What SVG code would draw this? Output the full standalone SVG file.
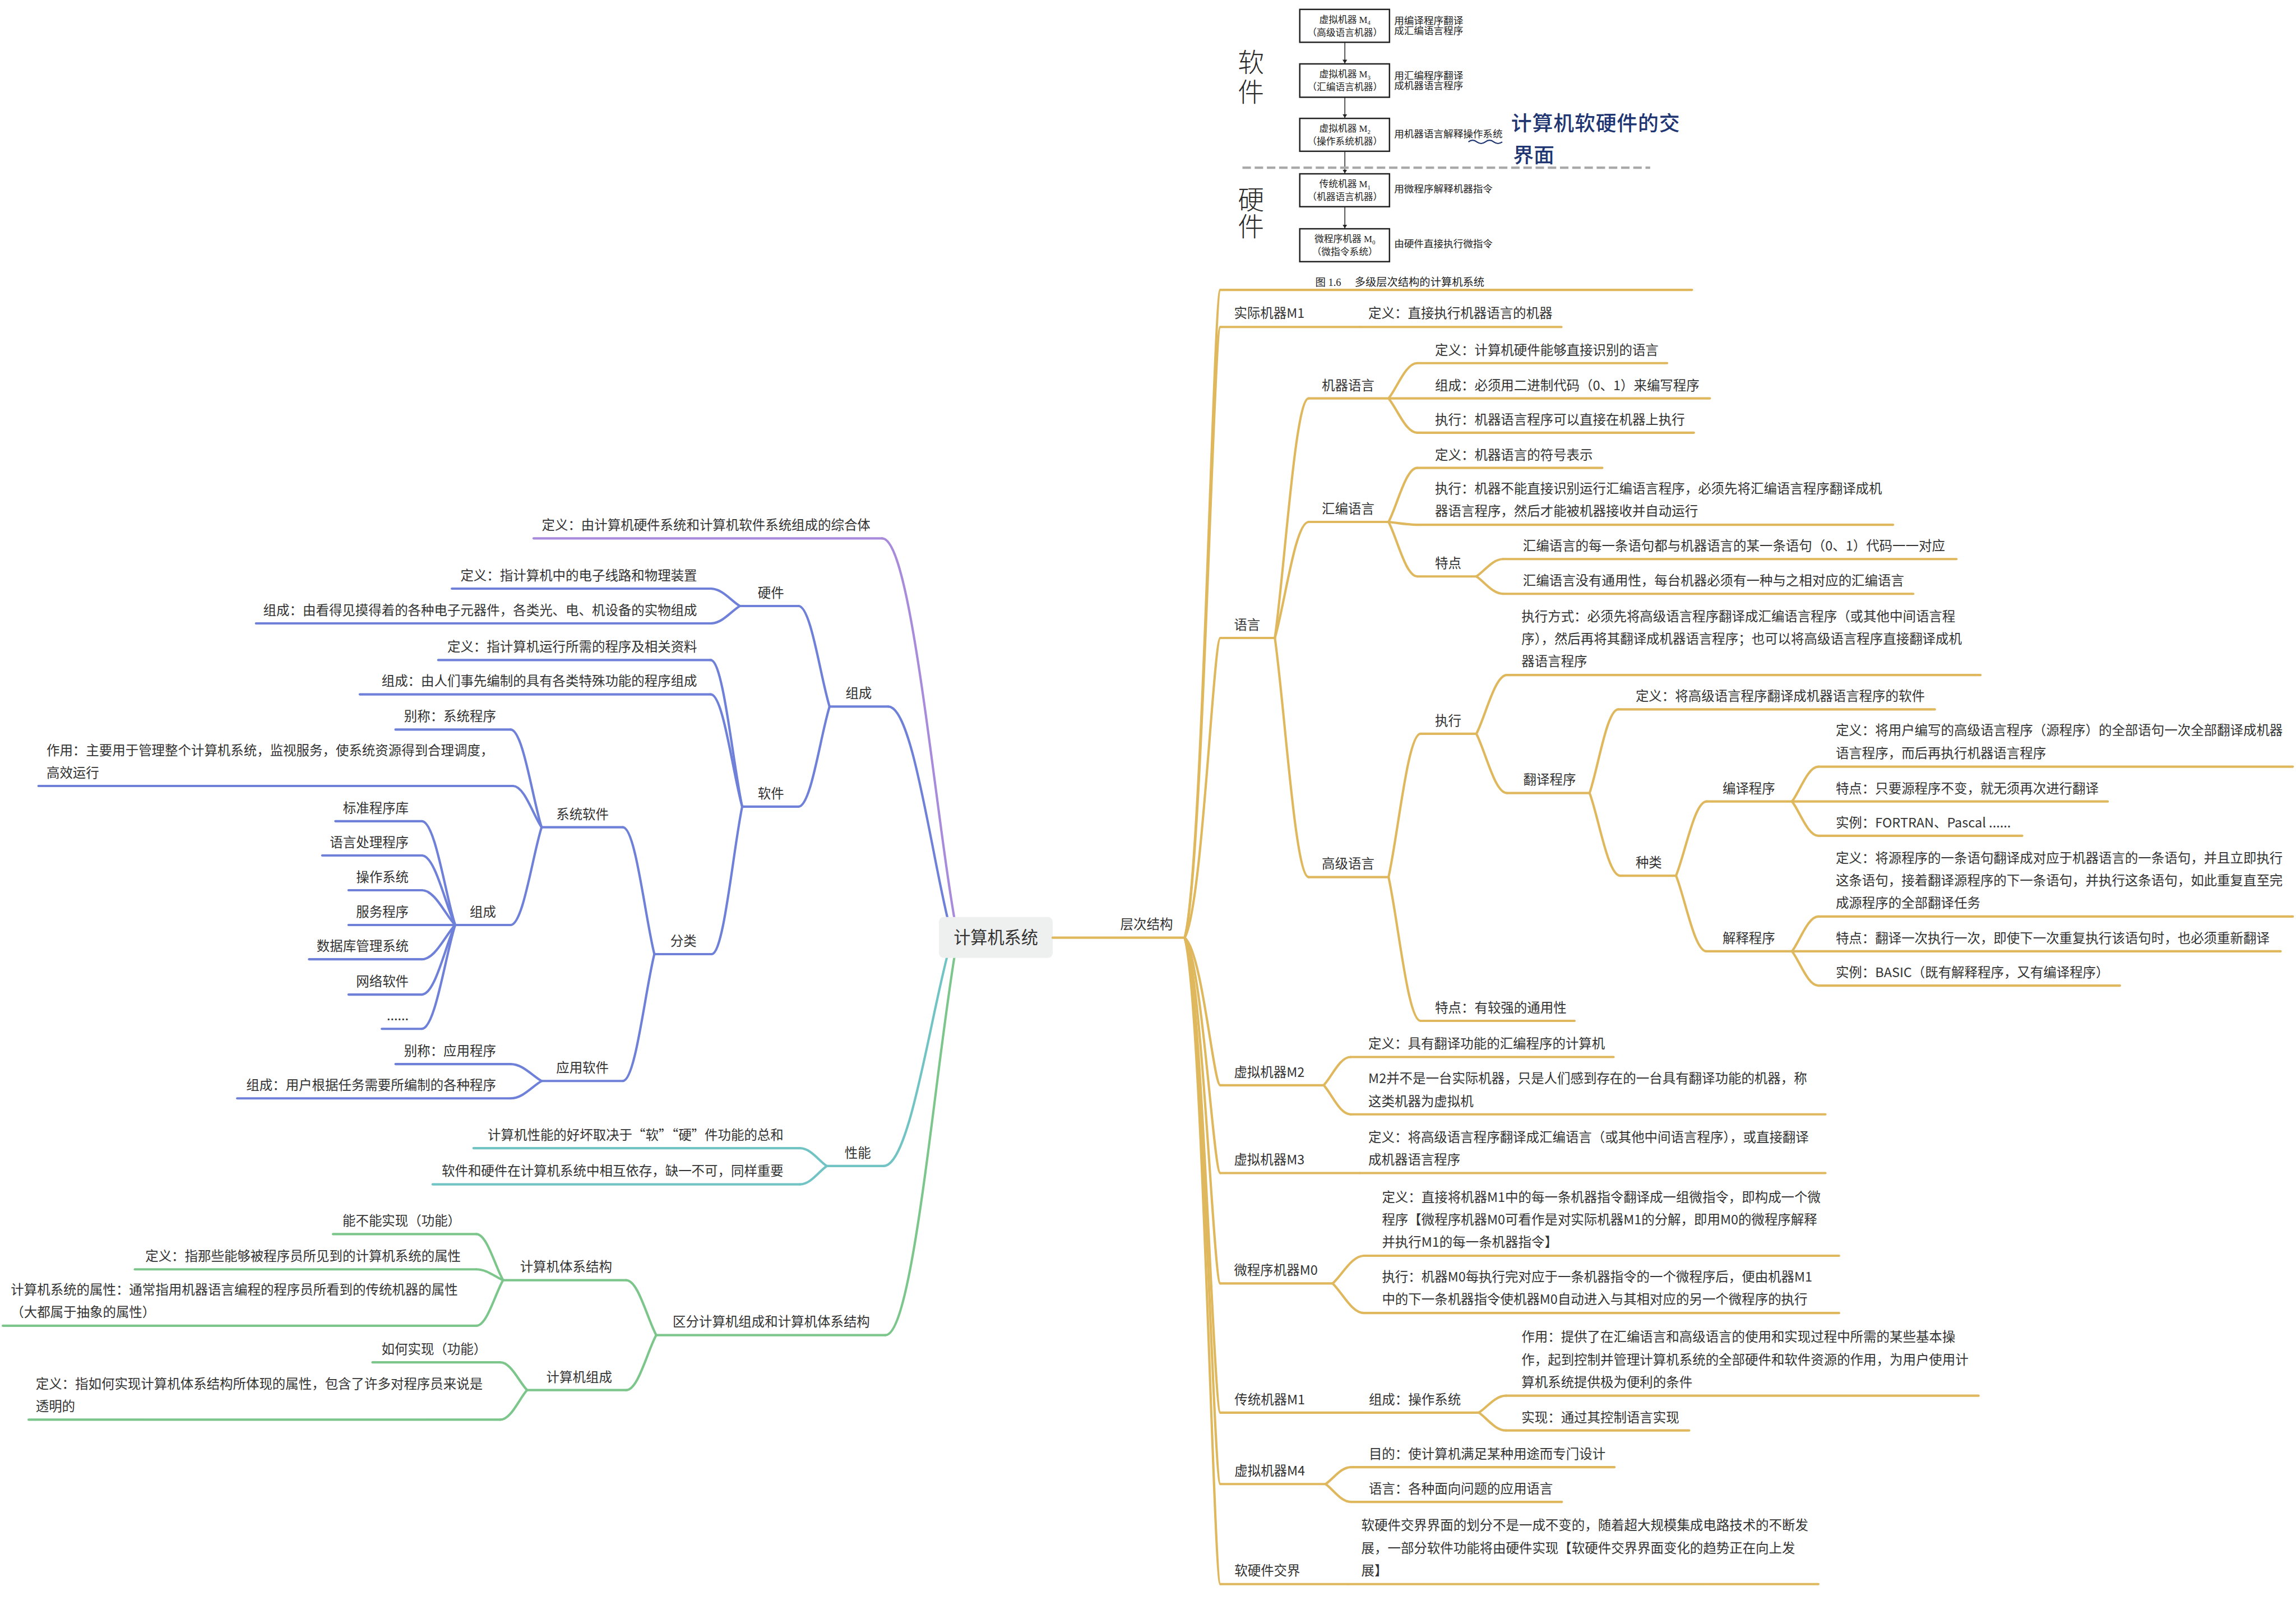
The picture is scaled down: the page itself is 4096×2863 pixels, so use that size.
<svg xmlns="http://www.w3.org/2000/svg" width="4096" height="2863" viewBox="0 0 4096 2863">
<defs>
<style>
.t{font-family:"Noto Sans CJK SC","Noto Sans",sans-serif;font-size:28px;fill:#333}
.e{text-anchor:end}
.ct{font-size:36px;text-anchor:middle}
.ln{fill:none;stroke-width:5;stroke-linecap:round}
.gd{stroke:#DFB85E}
.pu{stroke:#A88BDB}
.bl{stroke:#6F80D9}
.tl{stroke:#72C4C4}
.gr{stroke:#7CC68B}
.box{fill:#fff;stroke:#222;stroke-width:3}
.it{font-family:"Liberation Serif","Noto Sans CJK SC",serif;font-size:20px;fill:#222}
.ic{text-anchor:middle}
.ir{font-size:21px}
.sub{font-size:13px}
.hw{font-family:"Noto Sans CJK SC",sans-serif;fill:#2a2a2a;font-size:56px;font-weight:300;writing-mode:vertical-rl}
.hb{font-family:"Noto Sans CJK SC",sans-serif;fill:#1f3672;font-size:44px;font-weight:500}
.arr{stroke:#222;stroke-width:1.8;fill:none}
</style>
<marker id="ah" markerWidth="8" markerHeight="12" refX="8" refY="6" orient="auto" markerUnits="userSpaceOnUse"><path d="M0,1 L8,6 L0,11 Z" fill="#222"/></marker>
</defs>
<rect x="0" y="0" width="4096" height="2863" fill="#fff"/>
<g transform="scale(0.838)">

<g id="connectors">
<path class="ln gd" d="M2522,1996 C2560,1858 2583,617 2598,617"/>
<path class="ln gd" d="M2522,1996 C2560,1866 2583,696 2598,696"/>
<path class="ln gd" d="M2522,1996 C2560,1932 2583,1358 2598,1358"/>
<path class="ln gd" d="M2522,1996 C2560,2027 2583,2310 2598,2310"/>
<path class="ln gd" d="M2522,1996 C2560,2046 2583,2497 2598,2497"/>
<path class="ln gd" d="M2522,1996 C2560,2070 2583,2732 2598,2732"/>
<path class="ln gd" d="M2522,1996 C2560,2097 2583,3007 2598,3007"/>
<path class="ln gd" d="M2522,1996 C2560,2112 2583,3159 2598,3159"/>
<path class="ln gd" d="M2522,1996 C2560,2134 2583,3372 2598,3372"/>
<path class="ln gd" d="M2714,1358 C2735.6,1205 2757.2,848 2786,848"/>
<path class="ln gd" d="M2714,1358 C2735.6,1284 2757.2,1111 2786,1111"/>
<path class="ln gd" d="M2714,1358 C2735.6,1511 2757.2,1867 2786,1867"/>
<path class="ln gd" d="M2956,848 C2974.3,825.5 2992.6,773 3017,773"/>
<path class="ln gd" d="M2956,848 C2974.3,870 2992.6,921 3017,921"/>
<path class="ln gd" d="M2956,1111 C2974.3,1076.5 2992.6,996 3017,996"/>
<path class="ln gd" d="M2956,1111 C2974.3,1112.8 2992.6,1117 3017,1117"/>
<path class="ln gd" d="M2956,1111 C2974.3,1145.8 2992.6,1227 3017,1227"/>
<path class="ln gd" d="M3143,1227 C3160.1,1215.9 3177.2,1190 3200,1190"/>
<path class="ln gd" d="M3143,1227 C3160.1,1238.1 3177.2,1264 3200,1264"/>
<path class="ln gd" d="M2956,1867 C2976.4,1775.5 2996.8,1562 3024,1562"/>
<path class="ln gd" d="M2956,1867 C2976.4,1958.8 2996.8,2173 3024,2173"/>
<path class="ln gd" d="M3143,1562 C3162.5,1524.5 3182,1437 3208,1437"/>
<path class="ln gd" d="M3143,1562 C3162.5,1599.8 3182,1688 3208,1688"/>
<path class="ln gd" d="M3384,1688 C3402.3,1634.6 3420.6,1510 3445,1510"/>
<path class="ln gd" d="M3384,1688 C3403.5,1740.8 3423,1864 3449,1864"/>
<path class="ln gd" d="M3568,1864 C3587.5,1816.6 3607,1706 3633,1706"/>
<path class="ln gd" d="M3568,1864 C3587.5,1912.3 3607,2025 3633,2025"/>
<path class="ln gd" d="M3815,1706 C3831.8,1683.8 3848.6,1632 3871,1632"/>
<path class="ln gd" d="M3815,1706 C3831.8,1727.9 3848.6,1779 3871,1779"/>
<path class="ln gd" d="M3815,2025 C3831.8,2002.8 3848.6,1951 3871,1951"/>
<path class="ln gd" d="M3815,2025 C3831.8,2046.9 3848.6,2098 3871,2098"/>
<path class="ln gd" d="M2818,2310 C2835.1,2292 2852.2,2250 2875,2250"/>
<path class="ln gd" d="M2818,2310 C2835.1,2328.6 2852.2,2372 2875,2372"/>
<path class="ln gd" d="M2837,2732 C2857.1,2714.3 2877.2,2673 2904,2673"/>
<path class="ln gd" d="M2837,2732 C2857.1,2750.9 2877.2,2795 2904,2795"/>
<path class="ln gd" d="M3148,3007 C3165.4,2996.2 3182.8,2971 3206,2971"/>
<path class="ln gd" d="M3148,3007 C3165.4,3018.4 3182.8,3045 3206,3045"/>
<path class="ln gd" d="M2822,3159 C2838.2,3148.2 2854.4,3123 2876,3123"/>
<path class="ln gd" d="M2822,3159 C2838.2,3170.4 2854.4,3197 2876,3197"/>
<path class="ln pu" d="M2038,1990 C1990,1736.8 1942,1146 1878,1146"/>
<path class="ln bl" d="M2026,1990 C1985.5,1844.2 1945,1504 1891,1504"/>
<path class="ln tl" d="M2026,2000 C1982.5,2144.6 1939,2482 1881,2482"/>
<path class="ln gr" d="M2038,2000 C1992.1,2252.6 1946.2,2842 1885,2842"/>
<path class="ln bl" d="M1766,1504 C1746.2,1439.8 1726.4,1290 1700,1290"/>
<path class="ln bl" d="M1766,1504 C1746.2,1567.9 1726.4,1717 1700,1717"/>
<path class="ln bl" d="M1575,1290 C1556.4,1278.9 1537.8,1253 1513,1253"/>
<path class="ln bl" d="M1575,1290 C1556.4,1301.1 1537.8,1327 1513,1327"/>
<path class="ln bl" d="M1580,1717 C1559.9,1623.4 1539.8,1405 1513,1405"/>
<path class="ln bl" d="M1580,1717 C1559.9,1645.3 1539.8,1478 1513,1478"/>
<path class="ln bl" d="M1580,1717 C1560.5,1811.2 1541,2031 1515,2031"/>
<path class="ln bl" d="M1393,2031 C1372.9,1950 1352.8,1761 1326,1761"/>
<path class="ln bl" d="M1393,2031 C1372.9,2112 1352.8,2301 1326,2301"/>
<path class="ln bl" d="M1153,1761 C1133.2,1698.6 1113.4,1553 1087,1553"/>
<path class="ln bl" d="M1153,1761 C1134.7,1734.6 1116.4,1673 1092,1673"/>
<path class="ln bl" d="M1153,1761 C1133.2,1823.6 1113.4,1969 1087,1969"/>
<path class="ln bl" d="M969,1969 C947.7,1903 926.4,1748 898,1748"/>
<path class="ln bl" d="M969,1969 C947.7,1925 926.4,1821 898,1821"/>
<path class="ln bl" d="M969,1969 C947.7,1947.2 926.4,1895 898,1895"/>
<path class="ln bl" d="M969,1969 C947.7,1991.3 926.4,2042 898,2042"/>
<path class="ln bl" d="M969,1969 C947.7,2013.8 926.4,2117 898,2117"/>
<path class="ln bl" d="M969,1969 C947.7,2035.7 926.4,2190 898,2190"/>
<path class="ln bl" d="M1153,2301 C1133.2,2290.2 1113.4,2265 1087,2265"/>
<path class="ln bl" d="M1153,2301 C1133.2,2312.1 1113.4,2338 1087,2338"/>
<path class="ln tl" d="M1760,2482 C1742.9,2470.6 1725.8,2444 1703,2444"/>
<path class="ln tl" d="M1760,2482 C1742.9,2493.7 1725.8,2521 1703,2521"/>
<path class="ln gr" d="M1397,2842 C1377.8,2806.9 1358.6,2725 1333,2725"/>
<path class="ln gr" d="M1397,2842 C1377.8,2877.1 1358.6,2959 1333,2959"/>
<path class="ln gr" d="M1071,2725 C1053.9,2695.6 1036.8,2627 1014,2627"/>
<path class="ln gr" d="M1071,2725 C1053.9,2718.1 1036.8,2702 1014,2702"/>
<path class="ln gr" d="M1071,2725 C1053.9,2754.1 1036.8,2822 1014,2822"/>
<path class="ln gr" d="M1122,2959 C1104.9,2941.3 1087.8,2900 1065,2900"/>
<path class="ln gr" d="M1122,2959 C1104.9,2977.9 1087.8,3022 1065,3022"/>
</g>

<g id="n-root">
<rect x="1999" y="1952" width="242" height="87" rx="10" fill="#EEF0EF"/>
<text class="t ct" x="2120" y="2008">计算机系统</text>
</g>
<g id="n-cengci"><path class="ln gd" d="M2241,1996 H2522"/><text class="t" x="2385" y="1977">层次结构</text></g>

<g id="n-figure">
<text class="hw" x="2663" y="103" style="letter-spacing:8px">软件</text>
<text class="hw" x="2663" y="396" style="letter-spacing:1px">硬件</text>
<rect class="box" x="2767" y="20" width="191" height="70"/>
<rect class="box" x="2767" y="136" width="191" height="71"/>
<rect class="box" x="2767" y="252" width="191" height="70"/>
<rect class="box" x="2767" y="370" width="191" height="70"/>
<rect class="box" x="2767" y="487" width="191" height="70"/>
<path class="arr" d="M2863,90 V135" marker-end="url(#ah)"/>
<path class="arr" d="M2863,207 V251" marker-end="url(#ah)"/>
<path class="arr" d="M2863,322 V369" marker-end="url(#ah)"/>
<path class="arr" d="M2863,440 V486" marker-end="url(#ah)"/>
<path d="M2645,357 H3513" stroke="#A9A9A9" stroke-width="5" stroke-dasharray="18 8" fill="none"/>
<text class="it ic" x="2863" y="49">虚拟机器 M<tspan class="sub" dy="4">4</tspan></text>
<text class="it ic" x="2863" y="76">（高级语言机器）</text>
<text class="it ic" x="2863" y="165">虚拟机器 M<tspan class="sub" dy="4">3</tspan></text>
<text class="it ic" x="2863" y="192">（汇编语言机器）</text>
<text class="it ic" x="2863" y="281">虚拟机器 M<tspan class="sub" dy="4">2</tspan></text>
<text class="it ic" x="2863" y="308">（操作系统机器）</text>
<text class="it ic" x="2863" y="399">传统机器 M<tspan class="sub" dy="4">1</tspan></text>
<text class="it ic" x="2863" y="426">（机器语言机器）</text>
<text class="it ic" x="2863" y="516">微程序机器 M<tspan class="sub" dy="4">0</tspan></text>
<text class="it ic" x="2863" y="543">（微指令系统）</text>
<text class="it ir" x="2968" y="51">用编译程序翻译</text>
<text class="it ir" x="2968" y="73">成汇编语言程序</text>
<text class="it ir" x="2968" y="168">用汇编程序翻译</text>
<text class="it ir" x="2968" y="190">成机器语言程序</text>
<text class="it ir" x="2968" y="292">用机器语言解释操作系统</text>
<text class="it ir" x="2968" y="409">用微程序解释机器指令</text>
<text class="it ir" x="2968" y="526">由硬件直接执行微指令</text>
<path d="M3126,302 q9,-7 18,0 t18,0 t18,0 t18,0" stroke="#1f3672" stroke-width="2.5" fill="none"/>
<text class="hb" x="3217" y="278" style="letter-spacing:1px">计算机软硬件的交</text>
<text class="hb" x="3221" y="346">界面</text>
<text class="it" x="2800" y="609" style="font-size:22px">图 1.6</text>
<text class="it" x="2884" y="609" style="font-size:23px">多级层次结构的计算机系统</text>
<path class="ln gd" d="M2598,617 H3602"/>
</g>

<g id="n-shiji-m1"><path class="ln gd" d="M2598,696 H2895"/><text class="t" x="2627" y="677">实际机器M1</text></g>
<g id="n-shiji-m1-def"><path class="ln gd" d="M2895,696 H3324"/><text class="t" x="2913" y="677">定义：直接执行机器语言的机器</text></g>

<g id="n-yuyan"><path class="ln gd" d="M2598,1358 H2714"/><text class="t" x="2627" y="1340">语言</text></g>
<g id="n-jqyy"><path class="ln gd" d="M2786,848 H2956"/><text class="t" x="2814" y="830">机器语言</text></g>
<g id="n-jqyy-def"><path class="ln gd" d="M3017,773 H3549"/><text class="t" x="3055" y="755">定义：计算机硬件能够直接识别的语言</text></g>
<g id="n-jqyy-zc"><path class="ln gd" d="M2956,848 H3640"/><text class="t" x="3055" y="830">组成：必须用二进制代码（0、1）来编写程序</text></g>
<g id="n-jqyy-zx"><path class="ln gd" d="M3017,921 H3606"/><text class="t" x="3055" y="903">执行：机器语言程序可以直接在机器上执行</text></g>

<g id="n-hbyy"><path class="ln gd" d="M2786,1111 H2956"/><text class="t" x="2814" y="1093">汇编语言</text></g>
<g id="n-hbyy-def"><path class="ln gd" d="M3017,996 H3411"/><text class="t" x="3055" y="978">定义：机器语言的符号表示</text></g>
<g id="n-hbyy-zx"><path class="ln gd" d="M3017,1117 H4030"/><text class="t" x="3055" y="1050">执行：机器不能直接识别运行汇编语言程序，必须先将汇编语言程序翻译成机</text><text class="t" x="3055" y="1098">器语言程序，然后才能被机器接收并自动运行</text></g>
<g id="n-hbyy-td"><path class="ln gd" d="M3017,1227 H3143"/><text class="t" x="3055" y="1209">特点</text></g>
<g id="n-hbyy-td1"><path class="ln gd" d="M3200,1190 H4165"/><text class="t" x="3242" y="1172">汇编语言的每一条语句都与机器语言的某一条语句（0、1）代码一一对应</text></g>
<g id="n-hbyy-td2"><path class="ln gd" d="M3200,1264 H4073"/><text class="t" x="3242" y="1246">汇编语言没有通用性，每台机器必须有一种与之相对应的汇编语言</text></g>

<g id="n-gjyy"><path class="ln gd" d="M2786,1867 H2956"/><text class="t" x="2814" y="1849">高级语言</text></g>
<g id="n-gjyy-zx"><path class="ln gd" d="M3024,1562 H3143"/><text class="t" x="3055" y="1544">执行</text></g>
<g id="n-gjyy-zxfs"><path class="ln gd" d="M3208,1437 H4216"/><text class="t" x="3239" y="1322">执行方式：必须先将高级语言程序翻译成汇编语言程序（或其他中间语言程</text><text class="t" x="3239" y="1370">序），然后再将其翻译成机器语言程序；也可以将高级语言程序直接翻译成机</text><text class="t" x="3239" y="1418">器语言程序</text></g>
<g id="n-fycx"><path class="ln gd" d="M3208,1688 H3384"/><text class="t" x="3243" y="1670">翻译程序</text></g>
<g id="n-fycx-def"><path class="ln gd" d="M3445,1510 H4119"/><text class="t" x="3482" y="1492">定义：将高级语言程序翻译成机器语言程序的软件</text></g>
<g id="n-zhonglei"><path class="ln gd" d="M3449,1864 H3568"/><text class="t" x="3482" y="1846">种类</text></g>
<g id="n-bycx"><path class="ln gd" d="M3633,1706 H3815"/><text class="t" x="3667" y="1688">编译程序</text></g>
<g id="n-bycx-def"><path class="ln gd" d="M3871,1632 H4881"/><text class="t" x="3908" y="1565">定义：将用户编写的高级语言程序（源程序）的全部语句一次全部翻译成机器</text><text class="t" x="3908" y="1613">语言程序，而后再执行机器语言程序</text></g>
<g id="n-bycx-td"><path class="ln gd" d="M3815,1706 H4487"/><text class="t" x="3908" y="1688">特点：只要源程序不变，就无须再次进行翻译</text></g>
<g id="n-bycx-sl"><path class="ln gd" d="M3871,1779 H4305"/><text class="t" x="3908" y="1761">实例：FORTRAN、Pascal ......</text></g>
<g id="n-jscx"><path class="ln gd" d="M3633,2025 H3815"/><text class="t" x="3667" y="2007">解释程序</text></g>
<g id="n-jscx-def"><path class="ln gd" d="M3871,1951 H4881"/><text class="t" x="3908" y="1836">定义：将源程序的一条语句翻译成对应于机器语言的一条语句，并且立即执行</text><text class="t" x="3908" y="1884">这条语句，接着翻译源程序的下一条语句，并执行这条语句，如此重复直至完</text><text class="t" x="3908" y="1932">成源程序的全部翻译任务</text></g>
<g id="n-jscx-td"><path class="ln gd" d="M3815,2025 H4855"/><text class="t" x="3908" y="2007">特点：翻译一次执行一次，即使下一次重复执行该语句时，也必须重新翻译</text></g>
<g id="n-jscx-sl"><path class="ln gd" d="M3871,2098 H4513"/><text class="t" x="3908" y="2080">实例：BASIC（既有解释程序，又有编译程序）</text></g>
<g id="n-gjyy-td"><path class="ln gd" d="M3024,2173 H3352"/><text class="t" x="3055" y="2155">特点：有较强的通用性</text></g>

<g id="n-m2"><path class="ln gd" d="M2598,2310 H2818"/><text class="t" x="2627" y="2292">虚拟机器M2</text></g>
<g id="n-m2-def"><path class="ln gd" d="M2875,2250 H3435"/><text class="t" x="2913" y="2232">定义：具有翻译功能的汇编程序的计算机</text></g>
<g id="n-m2-desc"><path class="ln gd" d="M2875,2372 H3886"/><text class="t" x="2913" y="2306">M2并不是一台实际机器，只是人们感到存在的一台具有翻译功能的机器，称</text><text class="t" x="2913" y="2354">这类机器为虚拟机</text></g>
<g id="n-m3"><path class="ln gd" d="M2598,2497 H2895"/><text class="t" x="2627" y="2479">虚拟机器M3</text></g>
<g id="n-m3-def"><path class="ln gd" d="M2895,2497 H3886"/><text class="t" x="2913" y="2431">定义：将高级语言程序翻译成汇编语言（或其他中间语言程序），或直接翻译</text><text class="t" x="2913" y="2479">成机器语言程序</text></g>
<g id="n-m0"><path class="ln gd" d="M2598,2732 H2837"/><text class="t" x="2627" y="2714">微程序机器M0</text></g>
<g id="n-m0-def"><path class="ln gd" d="M2904,2673 H3915"/><text class="t" x="2942" y="2558">定义：直接将机器M1中的每一条机器指令翻译成一组微指令，即构成一个微</text><text class="t" x="2942" y="2606">程序【微程序机器M0可看作是对实际机器M1的分解，即用M0的微程序解释</text><text class="t" x="2942" y="2654">并执行M1的每一条机器指令】</text></g>
<g id="n-m0-zx"><path class="ln gd" d="M2904,2795 H3915"/><text class="t" x="2942" y="2728">执行：机器M0每执行完对应于一条机器指令的一个微程序后，便由机器M1</text><text class="t" x="2942" y="2776">中的下一条机器指令使机器M0自动进入与其相对应的另一个微程序的执行</text></g>
<g id="n-ct-m1"><path class="ln gd" d="M2598,3007 H2895"/><text class="t" x="2628" y="2989">传统机器M1</text></g>
<g id="n-ct-zc"><path class="ln gd" d="M2895,3007 H3148"/><text class="t" x="2914" y="2989">组成：操作系统</text></g>
<g id="n-ct-zy"><path class="ln gd" d="M3206,2971 H4212"/><text class="t" x="3239" y="2856">作用：提供了在汇编语言和高级语言的使用和实现过程中所需的某些基本操</text><text class="t" x="3239" y="2904">作，起到控制并管理计算机系统的全部硬件和软件资源的作用，为用户使用计</text><text class="t" x="3239" y="2952">算机系统提供极为便利的条件</text></g>
<g id="n-ct-sx"><path class="ln gd" d="M3206,3045 H3596"/><text class="t" x="3239" y="3027">实现：通过其控制语言实现</text></g>
<g id="n-m4"><path class="ln gd" d="M2598,3159 H2822"/><text class="t" x="2628" y="3141">虚拟机器M4</text></g>
<g id="n-m4-md"><path class="ln gd" d="M2876,3123 H3437"/><text class="t" x="2914" y="3105">目的：使计算机满足某种用途而专门设计</text></g>
<g id="n-m4-yy"><path class="ln gd" d="M2876,3197 H3325"/><text class="t" x="2914" y="3179">语言：各种面向问题的应用语言</text></g>
<g id="n-rjj"><path class="ln gd" d="M2598,3372 H2870"/><text class="t" x="2628" y="3353">软硬件交界</text></g>
<g id="n-rjj-t"><path class="ln gd" d="M2870,3372 H3871"/><text class="t" x="2898" y="3257">软硬件交界界面的划分不是一成不变的，随着超大规模集成电路技术的不断发</text><text class="t" x="2898" y="3305">展，一部分软件功能将由硬件实现【软硬件交界界面变化的趋势正在向上发</text><text class="t" x="2898" y="3353">展】</text></g>

<g id="n-def"><path class="ln pu" d="M1136,1146 H1878"/><text class="t e" x="1853" y="1128">定义：由计算机硬件系统和计算机软件系统组成的综合体</text></g>
<g id="n-zucheng"><path class="ln bl" d="M1766,1504 H1891"/><text class="t" x="1800" y="1486">组成</text></g>
<g id="n-yj"><path class="ln bl" d="M1575,1290 H1700"/><text class="t" x="1613" y="1272">硬件</text></g>
<g id="n-yj-def"><path class="ln bl" d="M962,1253 H1513"/><text class="t e" x="1484" y="1235">定义：指计算机中的电子线路和物理装置</text></g>
<g id="n-yj-zc"><path class="ln bl" d="M545,1327 H1513"/><text class="t e" x="1484" y="1309">组成：由看得见摸得着的各种电子元器件，各类光、电、机设备的实物组成</text></g>
<g id="n-rj"><path class="ln bl" d="M1580,1717 H1700"/><text class="t" x="1613" y="1699">软件</text></g>
<g id="n-rj-def"><path class="ln bl" d="M933,1405 H1513"/><text class="t e" x="1484" y="1387">定义：指计算机运行所需的程序及相关资料</text></g>
<g id="n-rj-zc"><path class="ln bl" d="M766,1478 H1513"/><text class="t e" x="1484" y="1460">组成：由人们事先编制的具有各类特殊功能的程序组成</text></g>
<g id="n-fl"><path class="ln bl" d="M1393,2031 H1515"/><text class="t" x="1427" y="2013">分类</text></g>
<g id="n-xtrj"><path class="ln bl" d="M1153,1761 H1326"/><text class="t" x="1184" y="1743">系统软件</text></g>
<g id="n-xtrj-bc"><path class="ln bl" d="M842,1553 H1087"/><text class="t e" x="1056" y="1535">别称：系统程序</text></g>
<g id="n-xtrj-zy"><path class="ln bl" d="M82,1673 H1092"/><text class="t" x="99" y="1607">作用：主要用于管理整个计算机系统，监视服务，使系统资源得到合理调度，</text><text class="t" x="99" y="1655">高效运行</text></g>
<g id="n-xtrj-zc"><path class="ln bl" d="M969,1969 H1087"/><text class="t" x="1000" y="1951">组成</text></g>
<g id="n-c1"><path class="ln bl" d="M714,1748 H898"/><text class="t e" x="870" y="1730">标准程序库</text></g>
<g id="n-c2"><path class="ln bl" d="M686,1821 H898"/><text class="t e" x="870" y="1803">语言处理程序</text></g>
<g id="n-c3"><path class="ln bl" d="M742,1895 H898"/><text class="t e" x="870" y="1877">操作系统</text></g>
<g id="n-c4"><path class="ln bl" d="M742,1969 H969"/><text class="t e" x="870" y="1951">服务程序</text></g>
<g id="n-c5"><path class="ln bl" d="M658,2042 H898"/><text class="t e" x="870" y="2024">数据库管理系统</text></g>
<g id="n-c6"><path class="ln bl" d="M742,2117 H898"/><text class="t e" x="870" y="2099">网络软件</text></g>
<g id="n-c7"><path class="ln bl" d="M813,2190 H898"/><text class="t e" x="870" y="2172">......</text></g>
<g id="n-yyrj"><path class="ln bl" d="M1153,2301 H1326"/><text class="t" x="1184" y="2283">应用软件</text></g>
<g id="n-yyrj-bc"><path class="ln bl" d="M842,2265 H1087"/><text class="t e" x="1056" y="2247">别称：应用程序</text></g>
<g id="n-yyrj-zc"><path class="ln bl" d="M505,2338 H1087"/><text class="t e" x="1056" y="2320">组成：用户根据任务需要所编制的各种程序</text></g>

<g id="n-xn"><path class="ln tl" d="M1760,2482 H1881"/><text class="t" x="1798" y="2464">性能</text></g>
<g id="n-xn-1"><path class="ln tl" d="M1008,2444 H1703"/><text class="t e" x="1668" y="2426">计算机性能的好坏取决于“软”“硬”件功能的总和</text></g>
<g id="n-xn-2"><path class="ln tl" d="M921,2521 H1703"/><text class="t e" x="1668" y="2503">软件和硬件在计算机系统中相互依存，缺一不可，同样重要</text></g>

<g id="n-qf"><path class="ln gr" d="M1397,2842 H1885"/><text class="t" x="1432" y="2824">区分计算机组成和计算机体系结构</text></g>
<g id="n-tx"><path class="ln gr" d="M1071,2725 H1333"/><text class="t" x="1107" y="2707">计算机体系结构</text></g>
<g id="n-tx-1"><path class="ln gr" d="M709,2627 H1014"/><text class="t e" x="981" y="2609">能不能实现（功能）</text></g>
<g id="n-tx-2"><path class="ln gr" d="M287,2702 H1014"/><text class="t e" x="981" y="2684">定义：指那些能够被程序员所见到的计算机系统的属性</text></g>
<g id="n-tx-3"><path class="ln gr" d="M6,2822 H1014"/><text class="t" x="23" y="2755">计算机系统的属性：通常指用机器语言编程的程序员所看到的传统机器的属性</text><text class="t" x="23" y="2803">（大都属于抽象的属性）</text></g>
<g id="n-zc2"><path class="ln gr" d="M1122,2959 H1333"/><text class="t" x="1163" y="2941">计算机组成</text></g>
<g id="n-zc2-1"><path class="ln gr" d="M793,2900 H1065"/><text class="t e" x="1036" y="2882">如何实现（功能）</text></g>
<g id="n-zc2-2"><path class="ln gr" d="M61,3022 H1065"/><text class="t" x="76" y="2956">定义：指如何实现计算机体系结构所体现的属性，包含了许多对程序员来说是</text><text class="t" x="76" y="3004">透明的</text></g>
</g>
</svg>
